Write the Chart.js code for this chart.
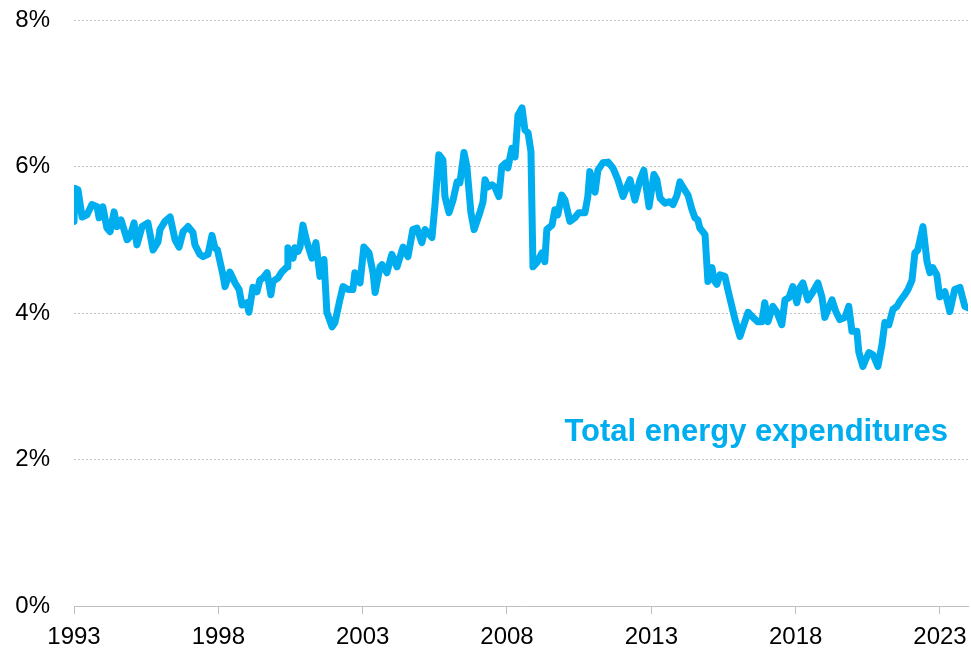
<!DOCTYPE html>
<html>
<head>
<meta charset="utf-8">
<title>Total energy expenditures</title>
<script src="https://cdn.jsdelivr.net/npm/chart.js@4/dist/chart.umd.min.js"></script>
<style>
  html, body { margin: 0; padding: 0; background: #fff; }
  #chart { display: block; }
</style>
</head>
<body>
<canvas id="chart" width="971" height="651"></canvas>
<script>
const LINE_COLOR = '#00AEEF'
const FONT = '"Liberation Sans", Arial, sans-serif'

// decimal year of each reading
const years = [
  1993.00, 1993.04, 1993.14, 1993.28, 1993.45, 1993.62, 1993.80, 1993.87,
  1994.00, 1994.14, 1994.25, 1994.39, 1994.49, 1994.63, 1994.84, 1994.94,
  1995.08, 1995.18, 1995.36, 1995.56, 1995.74, 1995.91, 1995.98,
  1996.15, 1996.33, 1996.50, 1996.64, 1996.78, 1996.95,
  1997.12, 1997.19, 1997.36, 1997.47, 1997.64, 1997.78, 1997.88, 1997.97,
  1998.16, 1998.23, 1998.40, 1998.58, 1998.72, 1998.82, 1998.99,
  1999.06, 1999.20, 1999.34, 1999.44, 1999.55, 1999.69, 1999.82, 1999.89,
  2000.07, 2000.20, 2000.38, 2000.41, 2000.59, 2000.65, 2000.76, 2000.83, 2000.93,
  2001.07, 2001.17, 2001.24, 2001.38, 2001.52, 2001.66, 2001.76, 2001.94,
  2002.04, 2002.21, 2002.32, 2002.49, 2002.66, 2002.73, 2002.91,
  2003.04, 2003.22, 2003.36, 2003.43, 2003.60, 2003.67, 2003.84,
  2004.01, 2004.19, 2004.40, 2004.57, 2004.74, 2004.88,
  2005.05, 2005.16, 2005.40, 2005.50, 2005.64, 2005.78, 2005.85, 2005.99,
  2006.13, 2006.27, 2006.37, 2006.51, 2006.61, 2006.75, 2006.86,
  2007.06, 2007.17, 2007.24, 2007.34, 2007.48, 2007.58, 2007.72, 2007.82, 2007.96,
  2008.03, 2008.17, 2008.28, 2008.38, 2008.52, 2008.62, 2008.73, 2008.83, 2008.90,
  2009.04, 2009.21, 2009.31, 2009.38, 2009.56, 2009.66, 2009.76, 2009.90,
  2010.01, 2010.18, 2010.35, 2010.49, 2010.70, 2010.80, 2010.87,
  2011.05, 2011.15, 2011.32, 2011.50, 2011.67, 2011.84,
  2012.02, 2012.15, 2012.26, 2012.43, 2012.61, 2012.74, 2012.92,
  2013.09, 2013.19, 2013.30, 2013.47, 2013.64, 2013.75, 2013.89, 2013.99,
  2014.09, 2014.27, 2014.41, 2014.51, 2014.61, 2014.68, 2014.86, 2014.96,
  2015.10, 2015.17, 2015.27, 2015.38, 2015.55, 2015.65, 2015.79, 2015.90,
  2016.07, 2016.17, 2016.35, 2016.52, 2016.69, 2016.83, 2016.93,
  2017.04, 2017.21, 2017.35, 2017.52, 2017.63, 2017.77, 2017.90,
  2018.04, 2018.15, 2018.25, 2018.42, 2018.60, 2018.77, 2018.91,
  2019.01, 2019.12, 2019.26, 2019.39, 2019.53, 2019.71, 2019.84, 2019.95,
  2020.12, 2020.19, 2020.33, 2020.43, 2020.54, 2020.68, 2020.85, 2020.99,
  2021.09, 2021.23, 2021.37, 2021.51, 2021.61, 2021.78, 2021.89,
  2022.03, 2022.13, 2022.23, 2022.41, 2022.55, 2022.65, 2022.75, 2022.89, 2022.99,
  2023.17, 2023.34, 2023.51, 2023.69, 2023.86, 2023.97,
]

// share of spending, percent
const shares = [
  5.25, 5.70, 5.68, 5.31, 5.34, 5.48, 5.45, 5.30,
  5.45, 5.16, 5.11, 5.38, 5.18, 5.27, 5.00, 5.04,
  5.23, 4.93, 5.18, 5.23, 4.86, 4.97, 5.14,
  5.25, 5.31, 5.00, 4.90, 5.11, 5.18,
  5.10, 4.93, 4.80, 4.77, 4.80, 5.06, 4.89, 4.86,
  4.52, 4.36, 4.56, 4.41, 4.32, 4.11, 4.14,
  4.01, 4.35, 4.29, 4.45, 4.48, 4.55, 4.25, 4.43,
  4.48, 4.56, 4.63, 4.89, 4.75, 4.89, 4.84, 4.90, 5.20,
  4.97, 4.84, 4.75, 4.96, 4.50, 4.73, 4.01, 3.81,
  3.87, 4.18, 4.36, 4.32, 4.32, 4.55, 4.41,
  4.90, 4.82, 4.55, 4.28, 4.63, 4.66, 4.55,
  4.80, 4.63, 4.90, 4.77, 5.14, 5.16,
  4.96, 5.14, 5.03, 5.45, 6.16, 6.09, 5.59, 5.37,
  5.54, 5.79, 5.78, 6.19, 6.00, 5.37, 5.14,
  5.37, 5.52, 5.82, 5.72, 5.75, 5.72, 5.59, 6.00, 6.05,
  5.98, 6.25, 6.13, 6.70, 6.80, 6.50, 6.46, 6.20, 4.63,
  4.69, 4.82, 4.70, 5.14, 5.20, 5.41, 5.34, 5.61,
  5.54, 5.25, 5.30, 5.37, 5.37, 5.59, 5.93,
  5.65, 5.95, 6.05, 6.06, 5.98, 5.82,
  5.59, 5.72, 5.82, 5.54, 5.82, 5.95, 5.45,
  5.89, 5.82, 5.57, 5.50, 5.52, 5.48, 5.61, 5.79,
  5.72, 5.61, 5.41, 5.30, 5.27, 5.16, 5.07, 4.43,
  4.62, 4.45, 4.39, 4.52, 4.50, 4.32, 4.09, 3.91,
  3.68, 3.80, 4.01, 3.94, 3.88, 3.88, 4.14,
  3.88, 4.09, 4.01, 3.84, 4.18, 4.21, 4.36,
  4.14, 4.35, 4.41, 4.18, 4.29, 4.41, 4.22,
  3.94, 4.05, 4.18, 4.02, 3.91, 3.94, 4.09, 3.75,
  3.75, 3.46, 3.27, 3.37, 3.46, 3.43, 3.27, 3.57,
  3.87, 3.84, 4.05, 4.09, 4.16, 4.25, 4.32,
  4.45, 4.82, 4.86, 5.18, 4.70, 4.55, 4.62, 4.52, 4.22,
  4.29, 4.02, 4.32, 4.35, 4.09, 4.07,
]

const tickYears = [1993, 1998, 2003, 2008, 2013, 2018, 2023]
const yTicks = [0, 2, 4, 6, 8]
const seriesLabel = 'Total energy expenditures'

const seriesLabelPlugin = {
  id: 'seriesLabel',
  afterDatasetsDraw(chart) {
    const { ctx, chartArea, scales } = chart
    ctx.save()
    ctx.font = `bold 31px ${FONT}`
    ctx.fillStyle = LINE_COLOR
    ctx.textAlign = 'right'
    ctx.textBaseline = 'alphabetic'
    ctx.fillText(seriesLabel, chartArea.right - 20, scales.y.getPixelForValue(2.25))
    ctx.restore()
  },
}

new Chart(document.getElementById('chart'), {
  type: 'line',
  data: {
    datasets: [{
      label: seriesLabel,
      data: years.map((year, i) => ({ x: year, y: shares[i] })),
      borderColor: LINE_COLOR,
      backgroundColor: LINE_COLOR,
      borderWidth: 7,
      borderJoinStyle: 'round',
      borderCapStyle: 'round',
      pointRadius: 0,
      tension: 0,
    }],
  },
  options: {
    responsive: false,
    animation: false,
    layout: { padding: { top: 20, right: 3, left: 0, bottom: 0 } },
    plugins: {
      legend: { display: false },
      tooltip: { enabled: false },
    },
    scales: {
      x: {
        type: 'linear',
        min: 1993,
        max: 2023.97,
        afterBuildTicks: (scale) => { scale.ticks = tickYears.map((value) => ({ value })) },
        afterFit: (scale) => {
          scale.height = 45
          scale.paddingLeft = 0
          scale.paddingRight = 0
        },
        grid: { drawOnChartArea: false, tickLength: 8, tickColor: '#bfbfbf' },
        border: { color: '#bfbfbf', width: 1 },
        ticks: {
          autoSkip: false,
          maxRotation: 0,
          padding: 9,
          color: '#000',
          font: { family: FONT, size: 24 },
          callback: (value) => String(value),
        },
      },
      y: {
        min: 0,
        max: 8,
        afterBuildTicks: (scale) => { scale.ticks = yTicks.map((value) => ({ value })) },
        afterFit: (scale) => {
          scale.width = 74
          scale.paddingTop = 14
          scale.paddingBottom = 14
        },
        grid: { color: '#c4c4c4', drawTicks: false },
        border: { display: false, dash: [2, 2] },
        ticks: {
          padding: 24,
          color: '#000',
          font: { family: FONT, size: 24 },
          callback: (value) => `${value}%`,
        },
      },
    },
  },
  plugins: [seriesLabelPlugin],
})
</script>
</body>
</html>
